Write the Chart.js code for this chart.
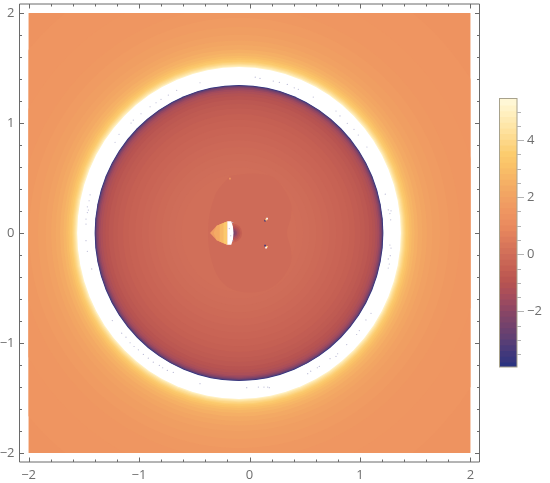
<!DOCTYPE html>
<html>
<head>
<meta charset="utf-8">
<script src="https://cdn.jsdelivr.net/npm/chart.js@4"></script>
<style>
  body { margin: 0; background: #fff; }
  #wrap { position: relative; width: 550px; height: 483px; overflow: hidden; }
  canvas { position: absolute; }
</style>
</head>
<body>
<div id="wrap">
  <canvas id="field" width="550" height="483" style="left:0;top:0"></canvas>
  <canvas id="legend" width="60" height="290" style="left:490px;top:90px"></canvas>
</div>
<script>
/* Axes */
const axisTicks = [-2, -1.8, -1.6, -1.4, -1.2, -1, -0.8, -0.6, -0.4, -0.2, 0, 0.2, 0.4, 0.6, 0.8, 1, 1.2, 1.4, 1.6, 1.8, 2];
const legendTicks = [-3.5, -3, -2.5, -2, -1.5, -1, -0.5, 0, 0.5, 1, 1.5, 2, 2.5, 3, 3.5, 4, 4.5, 5];

/* Colour scale: value -> colour */
const scaleValues = [-3.95, -3.4, -3, -2.5, -2, -1.5, -1, -0.5, 0, 0.5, 1, 1.5, 2, 2.5, 3, 3.5, 4, 4.5, 5, 5.46];
const scaleColors = ['#2c3480', '#46397a', '#5d3f74', '#74426c', '#8b4665', '#a44c5c', '#b75351', '#c56053', '#d06e59', '#de7c5b', '#ea8b5e', '#ef9661', '#f1a263', '#f5b065', '#f9bf67', '#fccc6e', '#fdd98c', '#fee6a8', '#fff1c4', '#fff9dc'];

/* Main field: nested level curves from the outside in */
const ringRadius = [3.0, 2.5, 2.2, 2.0, 1.9, 1.82, 1.75, 1.7, 1.66, 1.62, 1.59, 1.565, 1.545, 1.53, 1.515, 1.505, 1.495, 1.485, 1.475, 1.465, 1.307, 1.303, 1.298, 1.291, 1.282, 1.27, 1.255, 1.235, 1.21, 1.18, 1.14, 1.1, 1.05, 1.0, 0.94, 0.88, 0.82, 0.76, 0.7, 0.64, 0.58, 0.52];
const ringCenter = [-0.095, -0.095, -0.095, -0.095, -0.095, -0.095, -0.095, -0.095, -0.095, -0.095, -0.095, -0.095, -0.095, -0.095, -0.095, -0.095, -0.095, -0.095, -0.095, -0.095, -0.095, -0.095, -0.095, -0.095, -0.095, -0.095, -0.095, -0.095, -0.095, -0.095, -0.095, -0.095, -0.095, -0.095, -0.095, -0.095, -0.095, -0.095, -0.095, -0.095, -0.095, -0.095];
const ringValue = [1.38, 1.45, 1.52, 1.6, 1.7, 1.82, 1.95, 2.1, 2.25, 2.45, 2.65, 2.85, 3.1, 3.35, 3.6, 3.85, 4.15, 4.5, 4.95, 6, -3.95, -3.3, -2.8, -2.3, -1.9, -1.55, -1.3, -1.1, -0.95, -0.82, -0.7, -0.6, -0.5, -0.42, -0.34, -0.27, -0.2, -0.14, -0.08, -0.03, 0.01, 0.05];

/* Faint heart shaped patch around the middle */
const patchX = [-0.177, 0.068, 0.231, 0.367, 0.376, 0.34, 0.376, 0.367, 0.231, 0.05, -0.177, -0.313, -0.376, -0.313, -0.177];
const patchY = [0.52, 0.539, 0.494, 0.294, 0.159, 0, -0.159, -0.294, -0.476, -0.539, -0.503, -0.34, 0, 0.34, 0.52];
const patchValue = -0.1;

/* Dark lobe right of the white strip */
const lobeRadius = [0.085, 0.07, 0.055, 0.04, 0.025];
const lobeValue = [-0.5, -0.9, -1.3, -1.8, -2.3];
const lobeCenter = -0.152;

/* Orange wedge left of the strip, four bands */
const wedgeX1 = [-0.357, -0.297, -0.201, -0.201, -0.297];
const wedgeY1 = [0, 0.066, 0.105, -0.106, -0.066];
const wedgeX2 = [-0.325, -0.297, -0.201, -0.201, -0.297];
const wedgeY2 = [0, 0.066, 0.105, -0.106, -0.066];
const wedgeX3 = [-0.27, -0.201, -0.201, -0.27];
const wedgeY3 = [0.077, 0.105, -0.106, -0.077];
const wedgeX4 = [-0.235, -0.201, -0.201, -0.235];
const wedgeY4 = [0.091, 0.105, -0.106, -0.091];
const wedgeValue = [1.8, 2.3, 2.8, 3.4];

const stripX = [-0.201, -0.165, -0.15, -0.145, -0.15, -0.165, -0.201];
const stripY = [0.106, 0.106, 0.06, 0, -0.06, -0.106, -0.106];
const stripValue = 6;

/* Specks near the centre */
const speckX = [0.141, 0.15, 0.159, 0.141, 0.159, 0.15, -0.177];
const speckY = [0.113, 0.122, 0.131, -0.115, -0.125, -0.133, 0.495];
const speckValue = [-3.5, 3.4, 6, -3.5, 3.4, 6, 1.6];

/* Grey dots left in the white ring and strip */
const dotX = [-0.448, -0.659, -0.735, -0.801, -0.846, -0.9, -0.982, -1.052, -1.072, -1.181, -1.217, 0.052, 0.095, 0.215, 0.27, 0.342, 0.405, 0.442, 0.577, 0.783, 0.819, 0.885, 0.946, 0.985, 1.063, 1.229, 1.256, 1.281, 1.271, 1.278, 1.271, 1.281, 1.274, 1.256, 1.265, 1.256, -1.443, -1.452, -1.468, -1.459, -1.468, -1.48, -1.48, -1.48, -1.468, -1.428, -0.025, 0.08, 0.131, 0.165, 0.179, 0.527, 0.554, 0.614, 0.632, 0.729, 0.783, 0.798, 0.88, 0.97, 0.994, 1.054, 1.1, -1.242, -1.157, -1.118, -1.081, -1.045, -1.006, -0.961, -0.916, -0.871, -0.816, -0.786, -0.744, -0.69, -0.448, -0.183, -0.17, -0.152, -0.152];
const dotY = [1.366, 1.297, 1.254, 1.215, 1.184, 1.148, 1.084, 1.027, 1, 0.898, 0.825, 1.417, 1.405, 1.381, 1.369, 1.351, 1.32, 1.306, 1.236, 1.109, 1.064, 0.997, 0.943, 0.891, 0.782, 0.353, 0.211, 0.202, 0.177, 0.12, -0.109, -0.137, -0.206, -0.236, -0.282, -0.318, 0.347, 0.293, 0.238, 0.208, 0.186, 0.127, 0.081, -0.07, -0.167, -0.327, -1.406, -1.401, -1.401, -1.401, -1.406, -1.279, -1.256, -1.225, -1.213, -1.143, -1.122, -1.098, -1.014, -0.923, -0.887, -0.79, -0.73, -0.796, -0.911, -0.947, -0.998, -1.032, -1.062, -1.104, -1.138, -1.174, -1.204, -1.225, -1.249, -1.268, -1.37, 0.04, -0.025, -0.07, 0.095];

/* Colour bar levels */
const legendLevels = [-3.8, -3.6, -3.4, -3.2, -3, -2.8, -2.6, -2.4, -2.2, -2, -1.8, -1.6, -1.4, -1.2, -1, -0.8, -0.6, -0.4, -0.2, 0, 0.2, 0.4, 0.6, 0.8, 1, 1.2, 1.4, 1.6, 1.8, 2, 2.2, 2.4, 2.6, 2.8, 3, 3.2, 3.4, 3.6, 3.8, 4, 4.2, 4.4, 4.6, 4.8, 5, 5.2, 5.46];
const legendBottom = -3.95;

const frameColor = '#6a6a6a';
const textColor = '#6e6e6e';
const fontFamily = '"Open Sans", sans-serif';
const ellipseStretch = 1.025;

const hexToRgb = (hex) => [1, 3, 5].map((i) => parseInt(hex.slice(i, i + 2), 16));

const colorFor = (value) => {
  if (value > scaleValues[scaleValues.length - 1]) return '#ffffff';
  if (value <= scaleValues[0]) return scaleColors[0];
  let i = 1;
  while (scaleValues[i] < value) i++;
  const t = (value - scaleValues[i - 1]) / (scaleValues[i] - scaleValues[i - 1]);
  const a = hexToRgb(scaleColors[i - 1]);
  const b = hexToRgb(scaleColors[i]);
  const mix = a.map((c, k) => Math.round(c + (b[k] - c) * t));
  return `rgb(${mix[0]},${mix[1]},${mix[2]})`;
};

const toPoints = (xs, ys) => xs.map((x, i) => ({ x, y: ys[i] }));

const shape = (label, xs, ys, value, order, tension) => ({
  type: 'scatter',
  label,
  data: toPoints(xs, ys),
  showLine: true,
  fill: 'shape',
  tension: tension || 0,
  borderWidth: 0,
  pointRadius: 0,
  backgroundColor: colorFor(value),
  order,
});

const unitRadius = (chart, r) => chart.scales.x.getPixelForValue(r) - chart.scales.x.getPixelForValue(0);

const noPadding = (scale) => {
  scale.paddingTop = 0;
  scale.paddingBottom = 0;
  scale.paddingLeft = 0;
  scale.paddingRight = 0;
};

/* Clip the field to its square, stretch the rings a little in y */
const fieldClip = {
  id: 'fieldClip',
  beforeDatasetDraw(chart, args) {
    const { ctx, scales: { x, y } } = chart;
    ctx.save();
    ctx.beginPath();
    ctx.rect(x.getPixelForValue(-2), y.getPixelForValue(2), x.getPixelForValue(2) - x.getPixelForValue(-2), y.getPixelForValue(-2) - y.getPixelForValue(2));
    ctx.clip();
    if (args.meta.label === 'rings') {
      const cy = y.getPixelForValue(0);
      ctx.translate(0, cy);
      ctx.scale(1, ellipseStretch);
      ctx.translate(0, -cy);
    }
  },
  afterDatasetDraw(chart) {
    chart.ctx.restore();
  },
};

/* Mathematica style frame with inward ticks */
const frameTicks = {
  id: 'frameTicks',
  afterDraw(chart) {
    const { ctx, chartArea: a, scales: { x, y } } = chart;
    ctx.save();
    ctx.strokeStyle = frameColor;
    ctx.lineWidth = 1;
    ctx.beginPath();
    ctx.rect(a.left, a.top, a.right - a.left, a.bottom - a.top);
    axisTicks.forEach((v) => {
      const len = Number.isInteger(v) ? 4.5 : 2.5;
      const px = Math.round(x.getPixelForValue(v)) + 0.5;
      const py = Math.round(y.getPixelForValue(v)) + 0.5;
      ctx.moveTo(px, a.top); ctx.lineTo(px, a.top + len);
      ctx.moveTo(px, a.bottom); ctx.lineTo(px, a.bottom - len);
      ctx.moveTo(a.left, py); ctx.lineTo(a.left + len, py);
      ctx.moveTo(a.right, py); ctx.lineTo(a.right - len, py);
    });
    ctx.stroke();
    ctx.restore();
  },
};

const legendFrame = {
  id: 'legendFrame',
  afterDraw(chart) {
    const { ctx, chartArea: a, scales: { y } } = chart;
    ctx.save();
    ctx.lineWidth = 1;
    ctx.strokeStyle = '#a8a28c';
    ctx.strokeRect(a.left, a.top, a.right - a.left, a.bottom - a.top);
    ctx.strokeStyle = '#b4b4b4';
    ctx.beginPath();
    legendTicks.forEach((v) => {
      const len = v % 2 === 0 ? 7 : 4;
      const py = Math.round(y.getPixelForValue(v)) + 0.5;
      ctx.moveTo(a.right, py);
      ctx.lineTo(a.right + len, py);
    });
    ctx.stroke();
    ctx.restore();
  },
};

const tickLabel = (v) => (Number.isInteger(v) ? String(v).replace('-', '\u2212') : '');

const axisOptions = (position, size, padding) => ({
  type: 'linear',
  position,
  min: -2.082,
  max: 2.082,
  grid: { display: false, drawTicks: false },
  border: { display: false },
  afterBuildTicks: (scale) => { scale.ticks = axisTicks.map((value) => ({ value })); },
  afterFit: (scale) => {
    if (position === 'left') scale.width = size; else scale.height = size;
    noPadding(scale);
  },
  ticks: {
    autoSkip: false,
    maxRotation: 0,
    padding,
    color: textColor,
    font: { family: fontFamily, size: 13 },
    callback: tickLabel,
  },
});

new Chart(document.getElementById('field'), {
  type: 'scatter',
  data: {
    datasets: [
      {
        label: 'specks',
        data: toPoints(speckX, speckY),
        pointStyle: 'rect',
        pointRadius: 1.2,
        borderWidth: 0,
        backgroundColor: (ctx) => colorFor(speckValue[ctx.dataIndex]),
        order: 1,
      },
      {
        label: 'dots',
        data: toPoints(dotX, dotY),
        pointRadius: 0.6,
        borderWidth: 0,
        backgroundColor: '#b8b8d4',
        order: 2,
      },
      shape('strip', stripX, stripY, stripValue, 3),
      shape('wedge4', wedgeX4, wedgeY4, wedgeValue[3], 4),
      shape('wedge3', wedgeX3, wedgeY3, wedgeValue[2], 5),
      shape('wedge2', wedgeX2, wedgeY2, wedgeValue[1], 6),
      shape('wedge1', wedgeX1, wedgeY1, wedgeValue[0], 7),
      {
        label: 'lobe',
        data: lobeRadius.map(() => ({ x: lobeCenter, y: 0 })),
        pointRadius: (ctx) => unitRadius(ctx.chart, lobeRadius[ctx.dataIndex]),
        borderWidth: 0,
        pointBorderWidth: 0,
        backgroundColor: (ctx) => colorFor(lobeValue[ctx.dataIndex]),
        order: 8,
      },
      shape('patch', patchX, patchY, patchValue, 9, 0.35),
      {
        label: 'rings',
        data: ringCenter.map((x) => ({ x, y: 0 })),
        pointRadius: (ctx) => unitRadius(ctx.chart, ringRadius[ctx.dataIndex]),
        borderWidth: 0,
        pointBorderWidth: 0,
        backgroundColor: (ctx) => colorFor(ringValue[ctx.dataIndex]),
        order: 10,
      },
    ],
  },
  options: {
    responsive: false,
    animation: false,
    events: [],
    layout: { padding: { left: 0, top: 2.5, right: 70.5, bottom: 0 } },
    plugins: { legend: { display: false }, tooltip: { enabled: false } },
    scales: {
      x: axisOptions('bottom', 21, 5),
      y: axisOptions('left', 19.5, 5),
    },
  },
  plugins: [fieldClip, frameTicks],
});

new Chart(document.getElementById('legend'), {
  type: 'bar',
  data: {
    labels: [''],
    datasets: legendLevels.map((level, i) => ({
      data: [[legendBottom, level]],
      backgroundColor: colorFor(i === 0 ? legendBottom : (level + legendLevels[i - 1]) / 2),
      grouped: false,
      barPercentage: 1,
      categoryPercentage: 1,
      borderWidth: 0,
    })),
  },
  options: {
    responsive: false,
    animation: false,
    events: [],
    layout: { padding: { left: 9.5, top: 8.5, right: 0, bottom: 13 } },
    plugins: { legend: { display: false }, tooltip: { enabled: false } },
    scales: {
      x: { display: false },
      y: {
        position: 'right',
        min: legendBottom,
        max: 5.46,
        grid: { display: false, drawTicks: false },
        border: { display: false },
        afterBuildTicks: (scale) => { scale.ticks = legendTicks.map((value) => ({ value })); },
        afterFit: (scale) => { scale.width = 33; noPadding(scale); },
        ticks: {
          autoSkip: false,
          padding: 10,
          color: textColor,
          font: { family: fontFamily, size: 13 },
          callback: (v) => (v % 2 === 0 ? String(v).replace('-', '\u2212') : ''),
        },
      },
    },
  },
  plugins: [legendFrame],
});
</script>
</body>
</html>
